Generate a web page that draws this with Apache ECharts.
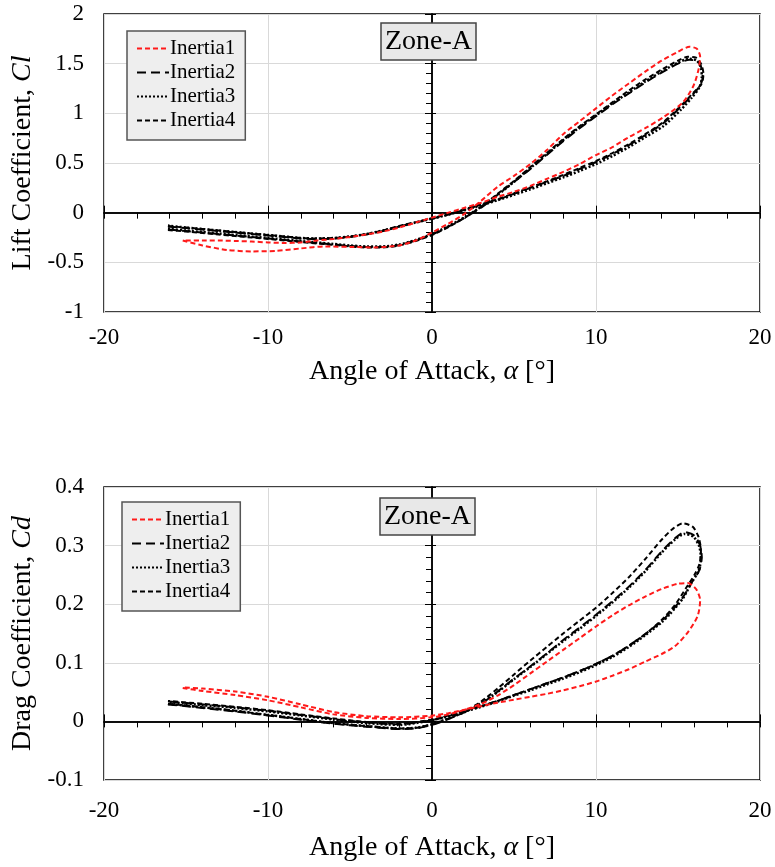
<!DOCTYPE html>
<html>
<head>
<meta charset="utf-8">
<script src="https://cdn.jsdelivr.net/npm/echarts@6/dist/echarts.min.js"></script>
<style>html,body{margin:0;padding:0;background:#fff}#c{width:775px;height:867px}</style>
</head>
<body>
<div id="c"></div>
<script>
const seriesNames = ['Inertia1', 'Inertia2', 'Inertia3', 'Inertia4'];
const zoneLabel = 'Zone-A';
const xTicks = { min: -20, max: 20, interval: 10 };
const clTicks = { min: -1, max: 2, interval: 0.5 };
const cdTicks = { min: -0.1, max: 0.4, interval: 0.1 };

// Lift coefficient loops [alpha, Cl]
const clInertia1 = [[-15.2,-0.28],[-14,-0.33],[-12.5,-0.375],[-11,-0.39],[-9.5,-0.385],[-8,-0.36],[-6.5,-0.34],[-5,-0.345],[-3.5,-0.35],[-2,-0.33],[-1,-0.28],[0,-0.2],[1,-0.11],[2,-0.01],[3,0.12],[4,0.26],[5,0.37],[6,0.49],[7,0.63],[8,0.79],[9,0.92],[10,1.05],[11,1.18],[12,1.3],[13,1.42],[14,1.53],[15,1.62],[15.7,1.67],[16.15,1.65],[16.35,1.57],[16.25,1.44],[15.95,1.28],[15.3,1.11],[14.1,0.96],[13,0.85],[12,0.76],[11,0.66],[10,0.58],[9,0.49],[8,0.41],[7,0.34],[6,0.27],[5,0.21],[4,0.16],[3,0.1],[2,0.05],[1,0],[0,-0.05],[-1,-0.1],[-2,-0.15],[-3,-0.19],[-4,-0.22],[-5,-0.245],[-6,-0.265],[-7,-0.28],[-8,-0.3],[-9,-0.305],[-10,-0.3],[-11,-0.29],[-12,-0.285],[-13,-0.28],[-14,-0.28],[-15.2,-0.28]];
const clInertia2 = [[-16.1,-0.17],[-15,-0.185],[-14,-0.2],[-13,-0.215],[-12,-0.23],[-11,-0.245],[-10,-0.26],[-9,-0.275],[-8,-0.29],[-7,-0.305],[-6,-0.32],[-5,-0.335],[-4,-0.345],[-3,-0.345],[-2,-0.325],[-1,-0.28],[0,-0.22],[1,-0.14],[2,-0.05],[3,0.05],[4,0.18],[5,0.31],[6,0.44],[7,0.58],[8,0.72],[9,0.85],[10,0.97],[11,1.09],[12,1.2],[13,1.31],[14,1.41],[15,1.5],[15.7,1.54],[16.2,1.52],[16.45,1.45],[16.5,1.36],[16.35,1.28],[15.9,1.19],[15.2,1.07],[14.1,0.9],[13,0.78],[12,0.68],[11,0.59],[10,0.51],[9,0.44],[8,0.37],[7,0.31],[6,0.25],[5,0.19],[4,0.13],[3,0.08],[2,0.03],[1,-0.02],[0,-0.06],[-1,-0.1],[-2,-0.14],[-3,-0.185],[-4,-0.22],[-5,-0.245],[-6,-0.26],[-7,-0.265],[-8,-0.26],[-9,-0.245],[-10,-0.23],[-11,-0.215],[-12,-0.2],[-13,-0.185],[-14,-0.17],[-15,-0.155],[-16.1,-0.14]];
const clInertia3 = [[-16.1,-0.16],[-15,-0.18],[-14,-0.195],[-13,-0.21],[-12,-0.225],[-11,-0.24],[-10,-0.255],[-9,-0.27],[-8,-0.285],[-7,-0.3],[-6,-0.315],[-5,-0.33],[-4,-0.34],[-3,-0.34],[-2,-0.32],[-1,-0.275],[0,-0.215],[1,-0.135],[2,-0.045],[3,0.06],[4,0.18],[5,0.31],[6,0.45],[7,0.59],[8,0.73],[9,0.86],[10,0.98],[11,1.1],[12,1.21],[13,1.32],[14,1.42],[15,1.51],[15.7,1.55],[16.15,1.53],[16.4,1.46],[16.45,1.36],[16.3,1.26],[15.85,1.16],[15.2,1.04],[14.1,0.87],[13,0.76],[12,0.66],[11,0.57],[10,0.49],[9,0.42],[8,0.355],[7,0.295],[6,0.235],[5,0.18],[4,0.125],[3,0.075],[2,0.025],[1,-0.02],[0,-0.06],[-1,-0.1],[-2,-0.14],[-3,-0.18],[-4,-0.215],[-5,-0.24],[-6,-0.255],[-7,-0.26],[-8,-0.255],[-9,-0.24],[-10,-0.225],[-11,-0.21],[-12,-0.195],[-13,-0.18],[-14,-0.165],[-15,-0.15],[-16.1,-0.13]];
const clInertia4 = [[-16.1,-0.175],[-15,-0.19],[-14,-0.205],[-13,-0.22],[-12,-0.235],[-11,-0.25],[-10,-0.265],[-9,-0.28],[-8,-0.295],[-7,-0.31],[-6,-0.325],[-5,-0.34],[-4,-0.35],[-3,-0.35],[-2,-0.33],[-1,-0.285],[0,-0.225],[1,-0.145],[2,-0.05],[3,0.06],[4,0.19],[5,0.32],[6,0.46],[7,0.6],[8,0.74],[9,0.87],[10,0.99],[11,1.11],[12,1.23],[13,1.34],[14,1.44],[15,1.53],[15.6,1.57],[16.1,1.56],[16.4,1.5],[16.55,1.4],[16.45,1.3],[15.95,1.21],[15.2,1.08],[14.1,0.91],[13,0.79],[12,0.69],[11,0.6],[10,0.52],[9,0.45],[8,0.38],[7,0.315],[6,0.255],[5,0.195],[4,0.135],[3,0.085],[2,0.035],[1,-0.015],[0,-0.055],[-1,-0.095],[-2,-0.135],[-3,-0.18],[-4,-0.215],[-5,-0.24],[-6,-0.255],[-7,-0.26],[-8,-0.255],[-9,-0.24],[-10,-0.225],[-11,-0.21],[-12,-0.195],[-13,-0.18],[-14,-0.165],[-15,-0.15],[-16.1,-0.135]];

// Drag coefficient loops [alpha, Cd]
const cdInertia1 = [[-15.2,0.057],[-14,0.052],[-12,0.045],[-10,0.036],[-8,0.024],[-6,0.012],[-4,0.006],[-2,0.004],[0,0.007],[1,0.012],[2,0.02],[3,0.03],[4,0.044],[5,0.062],[6,0.082],[7,0.102],[8,0.122],[9,0.142],[10,0.162],[11,0.181],[12,0.198],[13,0.213],[14,0.226],[15,0.235],[15.6,0.236],[16.1,0.226],[16.35,0.207],[16.2,0.18],[15.6,0.152],[14.8,0.128],[14,0.115],[13,0.102],[12,0.089],[11,0.078],[10,0.068],[9,0.06],[8,0.053],[7,0.047],[6,0.042],[5,0.037],[4,0.032],[3,0.026],[2,0.02],[1,0.014],[0,0.01],[-2,0.007],[-4,0.009],[-6,0.016],[-8,0.029],[-10,0.042],[-12,0.051],[-14,0.056],[-15.2,0.058]];
const cdInertia2 = [[-16.1,0.029],[-14,0.023],[-12,0.017],[-10,0.01],[-8,0.003],[-6,-0.004],[-4,-0.009],[-2,-0.013],[-1,-0.012],[0,-0.006],[1,0.004],[2,0.016],[3,0.03],[4,0.051],[5,0.073],[6,0.094],[7,0.116],[8,0.139],[9,0.16],[10,0.182],[11,0.205],[12,0.23],[13,0.258],[14,0.29],[14.8,0.312],[15.4,0.323],[16,0.317],[16.35,0.3],[16.45,0.28],[16.3,0.258],[15.9,0.24],[15.3,0.212],[14.5,0.185],[14,0.171],[13,0.149],[12,0.129],[11,0.112],[10,0.098],[9,0.086],[8,0.075],[7,0.065],[6,0.055],[5,0.045],[4,0.035],[3,0.026],[2,0.017],[1,0.009],[0,0.002],[-2,-0.005],[-4,-0.002],[-6,0.004],[-8,0.011],[-10,0.018],[-12,0.024],[-14,0.029],[-16.1,0.034]];
const cdInertia3 = [[-16.1,0.03],[-14,0.024],[-12,0.018],[-10,0.011],[-8,0.004],[-6,-0.003],[-4,-0.008],[-2,-0.012],[-1,-0.011],[0,-0.005],[1,0.005],[2,0.016],[3,0.031],[4,0.05],[5,0.072],[6,0.093],[7,0.115],[8,0.137],[9,0.158],[10,0.18],[11,0.203],[12,0.228],[13,0.256],[14,0.288],[14.8,0.31],[15.4,0.32],[15.95,0.315],[16.3,0.298],[16.4,0.278],[16.25,0.256],[15.85,0.238],[15.3,0.21],[14.5,0.183],[14,0.169],[13,0.147],[12,0.127],[11,0.11],[10,0.096],[9,0.084],[8,0.073],[7,0.063],[6,0.053],[5,0.044],[4,0.034],[3,0.025],[2,0.017],[1,0.009],[0,0.002],[-2,-0.006],[-4,-0.003],[-6,0.003],[-8,0.01],[-10,0.017],[-12,0.023],[-14,0.028],[-16.1,0.033]];
const cdInertia4 = [[-16.1,0.03],[-14,0.024],[-12,0.018],[-10,0.011],[-8,0.004],[-6,-0.003],[-4,-0.008],[-2,-0.012],[-1,-0.011],[0,-0.005],[1,0.005],[2,0.017],[3,0.034],[4,0.056],[5,0.08],[6,0.104],[7,0.127],[8,0.15],[9,0.172],[10,0.194],[11,0.219],[12,0.246],[13,0.277],[14,0.31],[14.7,0.329],[15.3,0.338],[15.9,0.332],[16.25,0.315],[16.4,0.292],[16.3,0.268],[16,0.25],[15.5,0.228],[14.8,0.198],[14,0.173],[13,0.149],[12,0.129],[11,0.112],[10,0.098],[9,0.086],[8,0.075],[7,0.065],[6,0.055],[5,0.045],[4,0.035],[3,0.026],[2,0.018],[1,0.01],[0,0.003],[-2,-0.004],[-4,-0.001],[-6,0.005],[-8,0.012],[-10,0.019],[-12,0.025],[-14,0.03],[-16.1,0.035]];

const FONT = 'Liberation Serif';
const seriesStyles = [
  { color: '#ff1a1a', type: [5, 3], width: 2 },
  { color: '#000', type: [9, 5], width: 2 },
  { color: '#000', type: [2, 2], width: 2.5 },
  { color: '#000', type: [5, 3], width: 2 }
];

const grids = [
  { left: 104, top: 14, width: 656, height: 298, show: true, borderColor: '#000', borderWidth: 1.5, backgroundColor: 'transparent', outerBoundsMode: 'none', containLabel: false },
  { left: 104, top: 487, width: 656, height: 293, show: true, borderColor: '#000', borderWidth: 1.5, backgroundColor: 'transparent', outerBoundsMode: 'none', containLabel: false }
];

const nameStyle = { fontFamily: FONT, fontSize: 28, color: '#000', rich: { i: { fontFamily: FONT, fontSize: 28, fontStyle: 'italic', color: '#000' } } };

function xAxesFor(g, labelMargin, nameGap) {
  const base = { type: 'value', gridIndex: g, min: xTicks.min, max: xTicks.max, interval: xTicks.interval };
  return [
    Object.assign({}, base, {
      position: 'bottom',
      name: 'Angle of Attack, {i|α} [°]', nameLocation: 'middle', nameGap: nameGap,
      nameTextStyle: nameStyle,
      axisLine: { show: false, onZero: false },
      axisTick: { show: false },
      axisLabel: { fontFamily: FONT, fontSize: 23, color: '#000', margin: labelMargin },
      splitLine: { show: true, lineStyle: { color: '#d9d9d9', width: 1 } }
    }),
    Object.assign({}, base, {
      axisLine: { show: true, onZero: true, lineStyle: { color: '#000', width: 1.5 } },
      axisTick: { show: true, inside: true, length: 6, lineStyle: { color: '#000', width: 1 } },
      minorTick: { show: true, splitNumber: 5, length: 6, lineStyle: { color: '#000', width: 1 } },
      axisLabel: { show: false }, splitLine: { show: false }
    }),
    Object.assign({}, base, {
      axisLine: { show: true, onZero: true, lineStyle: { color: '#000', width: 1.5 } },
      axisTick: { show: true, inside: false, length: 7, lineStyle: { color: '#000', width: 1 } },
      axisLabel: { show: false }, splitLine: { show: false }
    })
  ];
}
function yAxesFor(g, ticks, name, nameGap) {
  const base = { type: 'value', gridIndex: g, min: ticks.min, max: ticks.max, interval: ticks.interval };
  return [
    Object.assign({}, base, {
      position: 'left',
      name: name, nameLocation: 'middle', nameGap: nameGap,
      nameTextStyle: nameStyle,
      axisLine: { show: false, onZero: false },
      axisTick: { show: false },
      axisLabel: { fontFamily: FONT, fontSize: 23, color: '#000', margin: 20 },
      splitLine: { show: true, lineStyle: { color: '#d9d9d9', width: 1 } }
    }),
    Object.assign({}, base, {
      axisLine: { show: true, onZero: true, lineStyle: { color: '#000', width: 1.5 } },
      axisTick: { show: true, inside: true, length: 7, lineStyle: { color: '#000', width: 1 } },
      minorTick: { show: true, splitNumber: 5, length: 6, lineStyle: { color: '#000', width: 1 } },
      axisLabel: { show: false }, splitLine: { show: false }
    }),
    Object.assign({}, base, {
      axisLine: { show: true, onZero: true, lineStyle: { color: '#000', width: 1.5 } },
      axisTick: { show: true, inside: false, length: 4, lineStyle: { color: '#000', width: 1 } },
      axisLabel: { show: false }, splitLine: { show: false }
    })
  ];
}

const clData = [clInertia1, clInertia2, clInertia3, clInertia4];
const cdData = [cdInertia1, cdInertia2, cdInertia3, cdInertia4];

const series = [];
[clData, cdData].forEach(function (set, g) {
  set.forEach(function (d, i) {
    const st = seriesStyles[i];
    series.push({
      name: seriesNames[i], type: 'line', xAxisIndex: g * 3, yAxisIndex: g * 3,
      data: d, showSymbol: false, symbol: 'none', smooth: 0.25, animation: false,
      lineStyle: { color: st.color, type: st.type, width: st.width }, itemStyle: { color: st.color },
      z: 5 - i
    });
  });
});

function legendAt(left, top) {
  return {
    data: seriesNames, orient: 'vertical', left: left, top: top,
    backgroundColor: '#eeeeee', borderColor: '#555', borderWidth: 1.5, borderRadius: 0,
    padding: [6, 10, 8, 9], itemGap: 1, itemWidth: 32, itemHeight: 14,
    selectedMode: false,
    itemStyle: { opacity: 0, borderWidth: 0 },
    textStyle: { fontFamily: FONT, fontSize: 21, color: '#000', lineHeight: 23, padding: [0, 0, 0, -4] }
  };
}
function zoneAt(left, top) {
  return {
    text: zoneLabel, left: left, top: top,
    backgroundColor: '#e8e8e8', borderColor: '#444', borderWidth: 1.5,
    padding: [3, 4, 3, 4],
    textStyle: { fontFamily: FONT, fontSize: 28, fontWeight: 'normal', color: '#000', lineHeight: 31 }
  };
}

const chart = echarts.init(document.getElementById('c'), null, { renderer: 'canvas' });
chart.setOption({
  backgroundColor: '#fff',
  animation: false,
  title: [zoneAt(381, 23), zoneAt(380, 498)],
  legend: [legendAt(127, 31), legendAt(122, 502)],
  grid: grids,
  xAxis: xAxesFor(0, 14, 46).concat(xAxesFor(1, 19, 54)),
  yAxis: yAxesFor(0, clTicks, 'Lift Coefficient, {i|Cl}', 57).concat(yAxesFor(1, cdTicks, 'Drag Coefficient, {i|Cd}', 57)),
  series: series
});
</script>
</body>
</html>
